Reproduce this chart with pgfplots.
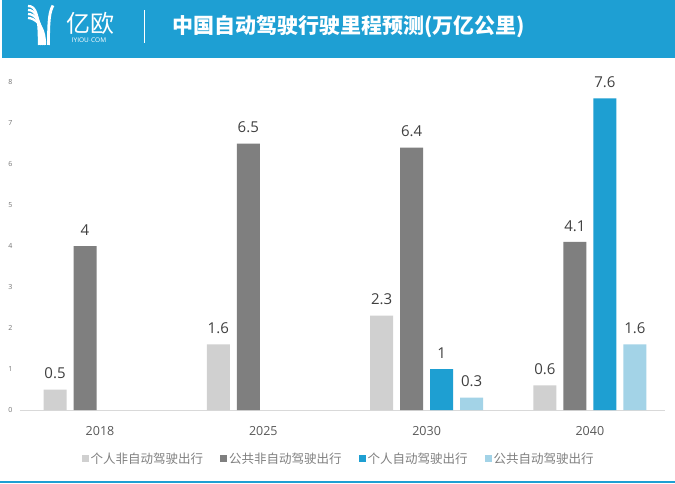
\documentclass[border=0pt]{standalone}
\usepackage{fontspec}
\usepackage{pgfplots}
\pgfplotsset{compat=1.18}
\setmainfont{Open Sans}
\newfontfamily\cjk{Noto Sans CJK SC}
\definecolor{hdr}{HTML}{1E9FD3}
\definecolor{c1}{HTML}{D0D0D0}
\definecolor{c2}{HTML}{7F7F7F}
\definecolor{c3}{HTML}{1E9FD2}
\definecolor{c4}{HTML}{A3D3E7}
\definecolor{lbl}{HTML}{404040}
\begin{document}
\begin{tikzpicture}[x=1pt,y=1pt]
\fill[white] (0,0) rectangle (675,483);
\fill[hdr] (2,425) rectangle (675,483);
\fill[hdr] (0,0) rectangle (675,2);
% logo icon
\foreach \k in {0,1,2,3} {
  \draw[white, line width=2.3pt] (28,{477-4*\k}) .. controls ({36-\k},{477-4*\k}) and ({39+2*\k},{469-3*\k}) .. ({39+2*\k},438);
}
\draw[white, line width=2.8pt] (53,477.5) .. controls (49.5,471) and (48.5,464) .. (48.5,438);
\node[text=white, font=\cjk\fontsize{24}{24}\selectfont, inner sep=0pt] at (90,459.5) {亿欧};
\node[text=white, font=\fontsize{6.5}{6.5}\selectfont, inner sep=0pt] at (89,442.5) {IYIOU$\cdot$COM};
\draw[white, line width=0.8pt] (144,473) -- (144,440);
\node[anchor=west, text=white, font=\cjk\bfseries\fontsize{21}{21}\selectfont, inner sep=0pt] at (172,456) {中国自动驾驶行驶里程预测(万亿公里)};
\begin{axis}[
  at={(20pt,73pt)}, anchor=south west, scale only axis,
  width=645pt, height=328pt,
  ymin=0, ymax=8, xmin=-0.49, xmax=3.46,
  ybar=7pt, bar width=23pt,
  xtick={0,1,2,3}, xticklabels={2018,2025,2030,2040},
  ytick={0,1,2,3,4,5,6,7,8},
  axis x line*=bottom, axis y line*=left,
  y axis line style={draw=none},
  x axis line style={draw=black!15, line width=0.8pt, -},
  major tick length=0pt,
  /pgf/number format/assume math mode=true,
  yticklabel style={font=\fontsize{7}{7}\selectfont, text=black!55, xshift=-4pt},
  xticklabel style={font=\fontsize{12.5}{12.5}\selectfont, text=black!65, yshift=-13pt},
  nodes near coords,
  every node near coord/.append style={font=\fontsize{15}{15}\selectfont, text=lbl, yshift=7pt},
  clip=false,
  legend columns=4,
  legend style={at={(0.494,-0.148)}, anchor=center, draw=none, fill=none,
    font=\cjk\fontsize{12.5}{12.5}\selectfont, text=black!50,
    /tikz/every even column/.append style={column sep=15pt}},
  legend image code/.code={\fill[#1] (0pt,-3.5pt) rectangle (7pt,3.5pt);},
]
\addplot[fill=c1, draw=none] coordinates {(0,0.5) (1,1.6) (2,2.3) (3,0.6)};
\addplot[fill=c2, draw=none] coordinates {(0,4) (1,6.5) (2,6.4) (3,4.1)};
\addplot[fill=c3, draw=none] coordinates {(2,1) (3,7.6)};
\addplot[fill=c4, draw=none] coordinates {(2,0.3) (3,1.6)};
\legend{个人非自动驾驶出行, 公共非自动驾驶出行, 个人自动驾驶出行, 公共自动驾驶出行}
\end{axis}
\pgfresetboundingbox
\useasboundingbox (0,0) rectangle (675,483);
\end{tikzpicture}
\end{document}
